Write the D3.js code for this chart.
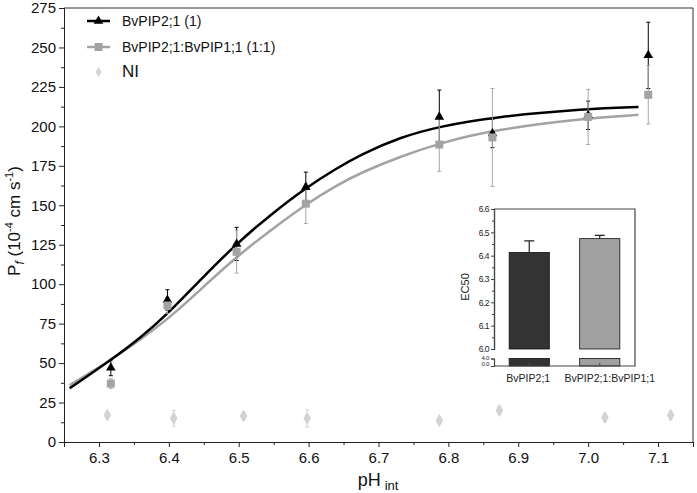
<!DOCTYPE html>
<html>
<head>
<meta charset="utf-8">
<script src="https://cdn.jsdelivr.net/npm/d3@7"></script>
<style>
  body { margin: 0; background: #fff; }
  svg { font-family: "Liberation Sans", Arial, sans-serif; }
</style>
</head>
<body>
<div id="chart"></div>
<script>
// Chart data
const phA = [6.317, 6.398, 6.497, 6.596, 6.787, 6.863, 7.000, 7.086];
const pfA = [47, 90, 125.5, 161.5, 206, 195.5, 207, 245];
const errA = [5, 6.5, 10.5, 9.5, 17, 9, 9, 21];

const phB = [6.317, 6.398, 6.497, 6.596, 6.787, 6.863, 7.000, 7.086];
const pfB = [37, 86.5, 120.5, 151, 188.5, 193, 206, 220];
const errB = [3, 5, 13.5, 12.5, 17, 31, 17.5, 18.5];

const phNI = [6.312, 6.407, 6.507, 6.598, 6.787, 6.873, 7.024, 7.118];
const pfNI = [17, 15, 16.5, 15, 13.5, 20, 15.5, 17];
const errNI = [1.5, 5, 2, 5.5, 2, 2.5, 2.5, 2.5];

// fitted curves
const fitPh = [6.258, 6.316, 6.359, 6.402, 6.445, 6.497, 6.545, 6.597, 6.640, 6.674, 6.731, 6.788, 6.864, 6.998, 7.072];
const fitA = [34.0, 51.6, 65.7, 82.7, 102.7, 125.8, 143.8, 161.4, 173.4, 182.0, 193.2, 200.0, 205.9, 211.2, 212.2];
const fitB = [36.0, 51.6, 64.7, 79.1, 96.4, 117.5, 134.0, 150.9, 162.6, 170.5, 180.9, 189.4, 197.8, 205.2, 207.3];

const seriesNames = ["BvPIP2;1 (1)", "BvPIP2;1:BvPIP1;1 (1:1)", "NI"];
const xTicks = [6.3, 6.4, 6.5, 6.6, 6.7, 6.8, 6.9, 7.0, 7.1];
const yTicks = [0, 25, 50, 75, 100, 125, 150, 175, 200, 225, 250, 275];

// inset
const insetCats = ["BvPIP2;1", "BvPIP2;1:BvPIP1;1"];
const ec50 = [6.414, 6.473];
const ec50Err = [0.049, 0.014];
const insetTicks = [6.0, 6.1, 6.2, 6.3, 6.4, 6.5, 6.6];
const insetLowTicks = [0.0, 4.0];

const W = 697, H = 493;
const svg = d3.select("#chart").append("svg")
  .attr("width", W).attr("height", H);

const mLeft = 64, mRight = 693, mTop = 8, mBottom = 442;
const x = d3.scaleLinear().domain([6.25, 7.15]).range([mLeft, mRight]);
const y = d3.scaleLinear().domain([0, 275]).range([mBottom, mTop]);

const BLACK = "#000", GREY = "#a3a3a3", LIGHT = "#d3d3d3";

// frame
svg.append("path")
  .attr("d", `M${mLeft},${mTop}H${mRight}V${mBottom}`)
  .attr("fill", "none").attr("stroke", "#333").attr("stroke-width", 1);

// axes
svg.append("g").attr("transform", `translate(${mLeft},0)`)
  .call(d3.axisLeft(y).tickValues(yTicks).tickSize(5).tickPadding(3).tickFormat(d3.format("d")));
svg.append("g").attr("transform", `translate(${mLeft},0)`)
  .call(d3.axisLeft(y).tickValues(d3.range(12.5, 275, 25)).tickSize(3).tickFormat(""));
svg.append("g").attr("transform", `translate(0,${mBottom})`)
  .call(d3.axisBottom(x).tickValues(xTicks).tickSize(5).tickPadding(5).tickFormat(d3.format(".1f")));
svg.append("g").attr("transform", `translate(0,${mBottom})`)
  .call(d3.axisBottom(x).tickValues(d3.range(6.25, 7.16, 0.1)).tickSize(3).tickFormat(""));
svg.selectAll(".domain").attr("stroke", "#222");
svg.selectAll(".tick line").attr("stroke", "#222");
svg.selectAll(".tick text").attr("font-size", 15).attr("fill", "#111");

// axis titles
svg.append("text")
  .attr("x", 378).attr("y", 486).attr("text-anchor", "middle")
  .attr("font-size", 18).attr("fill", "#111")
  .call(t => {
    t.append("tspan").text("pH");
    t.append("tspan").attr("font-size", 13).attr("dx", 4).attr("dy", 4).text("int");
  });

svg.append("text")
  .attr("transform", "translate(20,221) rotate(-90)")
  .attr("text-anchor", "middle").attr("font-size", 17).attr("fill", "#111")
  .call(t => {
    t.append("tspan").text("P");
    t.append("tspan").attr("font-size", 12).attr("font-style", "italic").attr("dy", 4).text("f");
    t.append("tspan").attr("dy", -4).text(" (10");
    t.append("tspan").attr("font-size", 11).attr("dy", -7).text("-4");
    t.append("tspan").attr("dy", 7).text(" cm s");
    t.append("tspan").attr("font-size", 11).attr("dy", -7).text("-1");
    t.append("tspan").attr("dy", 7).text(")");
  });

// fitted curves
const line = d3.line().curve(d3.curveBasis).x(d => x(d[0])).y(d => y(d[1]));
svg.append("path").datum(fitPh.map((p, i) => [p, fitB[i]]))
  .attr("d", line).attr("fill", "none").attr("stroke", GREY).attr("stroke-width", 2.5);
svg.append("path").datum(fitPh.map((p, i) => [p, fitA[i]]))
  .attr("d", line).attr("fill", "none").attr("stroke", BLACK).attr("stroke-width", 2.5);

// error bars
function errBars(ph, v, e, color) {
  const g = svg.append("g").attr("stroke", color).attr("stroke-width", 1).attr("fill", "none");
  ph.forEach((p, i) => {
    const cx = x(p), y0 = y(v[i] - e[i]), y1 = y(v[i] + e[i]);
    g.append("path").attr("d", `M${cx},${y0}V${y1}M${cx - 2},${y0}H${cx + 2}M${cx - 2},${y1}H${cx + 2}`);
  });
}
errBars(phNI, pfNI, errNI, LIGHT);
errBars(phA, pfA, errA, BLACK);
errBars(phB, pfB, errB, "#a8a8a8");

const tri = d3.symbol().type(d3.symbolTriangle).size(40);
const sq = d3.symbol().type(d3.symbolSquare).size(64);
const dia = d3.symbol().type(d3.symbolDiamond).size(50);

svg.append("g").selectAll("path").data(phNI).join("path")
  .attr("d", dia).attr("fill", LIGHT)
  .attr("transform", (p, i) => `translate(${x(p)},${y(pfNI[i])})`);
svg.append("g").selectAll("path").data(phA).join("path")
  .attr("d", tri).attr("fill", BLACK)
  .attr("transform", (p, i) => `translate(${x(p)},${y(pfA[i])})`);
svg.append("g").selectAll("path").data(phB).join("path")
  .attr("d", sq).attr("fill", GREY)
  .attr("transform", (p, i) => `translate(${x(p)},${y(pfB[i])})`);

// legend
const leg = svg.append("g");
const legY = [21, 47, 72];
leg.append("line").attr("x1", 87).attr("x2", 110).attr("y1", legY[0]).attr("y2", legY[0])
  .attr("stroke", BLACK).attr("stroke-width", 2.5);
leg.append("path").attr("d", tri).attr("fill", BLACK).attr("transform", `translate(98.5,${legY[0]})`);
leg.append("line").attr("x1", 87).attr("x2", 110).attr("y1", legY[1]).attr("y2", legY[1])
  .attr("stroke", GREY).attr("stroke-width", 2.5);
leg.append("path").attr("d", sq).attr("fill", GREY).attr("transform", `translate(98.5,${legY[1]})`);
leg.append("path").attr("d", d3.symbol().type(d3.symbolDiamond).size(30)).attr("fill", LIGHT)
  .attr("transform", `translate(98.5,${legY[2]})`);
seriesNames.forEach((s, i) => {
  leg.append("text").attr("x", 122).attr("y", legY[i] + 5)
    .attr("font-size", i === 2 ? 17 : 14).attr("fill", "#111").text(s);
});

// ---- inset bar chart ----
const iL = 494, iR = 635, iT = 209, iB = 366;
const iy = d3.scaleLinear().domain([6.0, 6.6]).range([349, iT]);
const iyLow = d3.scaleLinear().domain([0, 4]).range([iB, 358.5]);
const ix = d3.scaleBand().domain(insetCats).range([iL, iR]).paddingInner(0.43).paddingOuter(0.215);
const ins = svg.append("g");
const barColors = ["#333", "#a0a0a0"];

ins.append("rect").attr("x", iL).attr("y", iT).attr("width", iR - iL).attr("height", iB - iT)
  .attr("fill", "#fff").attr("stroke", "none");

insetCats.forEach((c, i) => {
  // upper segment
  ins.append("rect").attr("x", ix(c)).attr("width", ix.bandwidth())
    .attr("y", iy(ec50[i])).attr("height", iy(6.0) - iy(ec50[i]))
    .attr("fill", barColors[i]).attr("stroke", "#111").attr("stroke-width", 0.8);
  // lower segment
  ins.append("rect").attr("x", ix(c)).attr("width", ix.bandwidth())
    .attr("y", iyLow(4)).attr("height", iyLow(0) - iyLow(4))
    .attr("fill", barColors[i]).attr("stroke", "#111").attr("stroke-width", 0.8);
  const cx = ix(c) + ix.bandwidth() / 2;
  const ye = iy(ec50[i] + ec50Err[i]);
  ins.append("path").attr("d", `M${cx},${iy(ec50[i])}V${ye}M${cx - 5},${ye}H${cx + 5}`)
    .attr("stroke", "#222").attr("stroke-width", 1.2).attr("fill", "none");
});

// inset frame
ins.append("path").attr("d", `M${iL},${iT}H${iR}V${iB}H${iL}`)
  .attr("fill", "none").attr("stroke", "#444").attr("stroke-width", 1.2);

ins.append("g").attr("transform", `translate(${iL},0)`)
  .call(d3.axisLeft(iy).tickValues(insetTicks).tickSize(3).tickPadding(2).tickFormat(d3.format(".1f")));
ins.append("g").attr("transform", `translate(${iL},0)`)
  .call(d3.axisLeft(iy).tickValues(d3.range(6.05, 6.6, 0.1)).tickSize(2).tickFormat(""));
const ib = ins.append("g").attr("transform", `translate(${iL},0)`)
  .call(d3.axisLeft(iyLow).tickValues(insetLowTicks).tickSize(3).tickPadding(2).tickFormat(d3.format(".1f")));
ins.selectAll(".domain").attr("stroke", "#444").attr("stroke-width", 1.2);
ins.selectAll(".tick line").attr("stroke", "#444");
ins.selectAll(".tick text").attr("font-size", 8.5).attr("fill", "#222").attr("letter-spacing", -0.5);
ib.selectAll(".tick text").attr("font-size", 6).attr("letter-spacing", -0.3)
  .attr("dy", (d, i) => i === 0 ? "-0.2px" : "0.5px");

const ixAxis = ins.append("g").attr("transform", `translate(0,${iB})`)
  .call(d3.axisBottom(ix).tickSize(-3).tickPadding(9))
  .call(g => g.select(".domain").remove())
  .call(g => g.selectAll(".tick line").attr("stroke", "#444"))
  .call(g => g.selectAll(".tick text").attr("font-size", 10.5).attr("fill", "#222"));
ixAxis.selectAll(".tick text").attr("dx", (d, i) => i === 1 ? 10 : -1);

ins.append("text").attr("transform", "translate(469,287) rotate(-90)")
  .attr("text-anchor", "middle").attr("font-size", 11).attr("fill", "#222").text("EC50");
</script>
</body>
</html>
